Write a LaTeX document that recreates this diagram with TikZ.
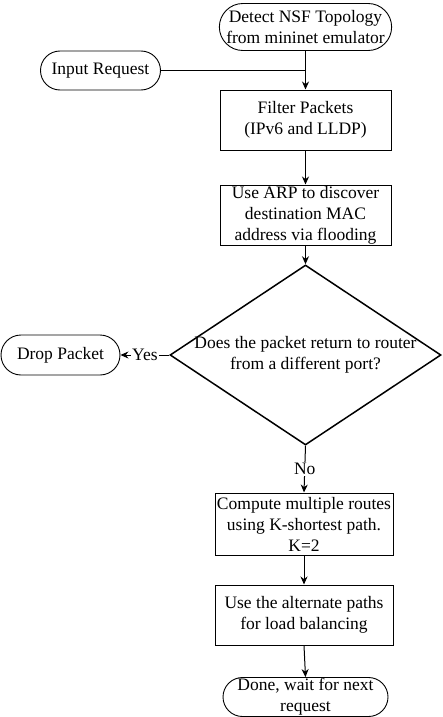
\documentclass[tikz,border=0pt]{standalone}
\usepackage{fontspec}
\setmainfont{Liberation Serif}
\usetikzlibrary{shapes.geometric,shapes.misc,arrows.meta}
\begin{document}
\begin{tikzpicture}[x=1pt, y=-1pt,
        font=\fontsize{17.5}{21}\selectfont,
        term/.style={draw, line width=0.9pt, rounded rectangle, inner sep=0pt, align=center},
        proc/.style={draw, line width=1pt, rectangle, inner sep=0pt, align=center},
        decide/.style={draw, line width=1.5pt, diamond, inner sep=0pt, minimum width=271pt, minimum height=180pt},
        flow/.style={line width=1pt, -{Stealth[length=8pt, width=7pt]}}]
            \useasboundingbox (0, 0) rectangle (442, 717);
            % start and input
            \node[term, minimum width=169pt, minimum height=47pt] (detect) at (305.5, 27) {Detect NSF Topology\\from mininet emulator};
            \node[term, minimum width=120pt, minimum height=39pt] (input) at (100.5, 70.5) {Input Request};
            % process steps
            \node[proc, minimum width=171pt, minimum height=60pt] (filter) at (305.5, 120) {Filter Packets\\(IPv6 and LLDP)};
            \node[proc, minimum width=171pt, minimum height=60pt] (arp) at (305.5, 215) {Use ARP to discover\\destination MAC\\address via flooding};
            \node[decide, label={[align=center, inner sep=0pt]center:{Does the packet return to router\\from a different port?}}] (check) at (305.5, 355) {};
            \node[term, minimum width=119pt, minimum height=40pt] (drop) at (60.5, 355) {Drop Packet};
            \node[proc, minimum width=178pt, minimum height=62pt] (routes) at (304, 524) {Compute multiple routes\\using K-shortest path.\\K=2};
            \node[proc, minimum width=178pt, minimum height=60pt] (balance) at (304, 615) {Use the alternate paths\\for load balancing};
            \node[term, minimum width=165pt, minimum height=39pt] (done) at (305.5, 697) {Done, wait for next\\request};

            % connectors
            \coordinate (merge) at (detect.south |- input.east);
            \draw[line width=1pt] (input.east) -- (merge);
            \draw[flow] (detect.south) -- (filter.north);
            \draw[flow] (filter.south) -- (arp.north);
            \draw[flow] (arp.south) -- (check.north);
            \draw[flow] (check.west) -- node[fill=white, inner sep=1pt] {Yes} (drop.east);
            \draw[flow] (check.south) -- node[fill=white, inner sep=1pt] {No} (routes.north);
            \draw[flow] (routes.south) -- (balance.north);
            \draw[flow] (balance.south) -- (done.north);
\end{tikzpicture}
\end{document}
